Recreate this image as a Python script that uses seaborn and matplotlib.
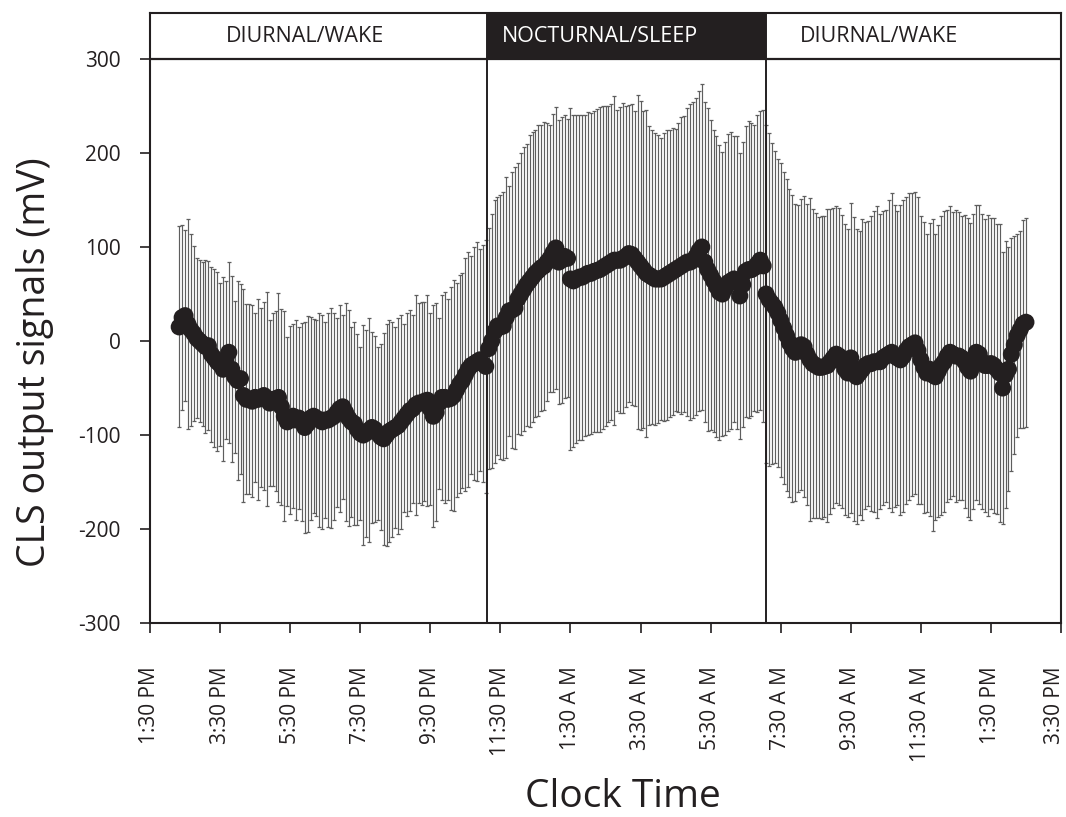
import numpy as np
import pandas as pd
import matplotlib
matplotlib.use("Agg")
import matplotlib.pyplot as plt
import matplotlib.transforms as mtransforms
import seaborn as sns

# ---- data (5-min samples starting 2:20 PM; one row per hour) ----
start_hour = 14 + 20 / 60.0
step_hours = 5 / 60.0

mean_rows = [
    [15, 25, 27, 18, 12, 8, 3, 0, -3, -6, -5, -14],
    [-18, -22, -25, -30, -20, -12, -30, -38, -42, -40, -58, -62],
    [-62, -64, -60, -62, -60, -58, -62, -66, -62, -64, -60, -70],
    [-80, -86, -84, -80, -84, -82, -86, -92, -88, -82, -80, -82],
    [-84, -86, -84, -84, -82, -80, -76, -72, -70, -76, -82, -86],
    [-88, -94, -98, -100, -98, -95, -92, -94, -98, -102, -104, -100],
    [-96, -94, -92, -90, -86, -82, -78, -74, -72, -68, -66, -66],
    [-64, -63, -72, -80, -76, -66, -60, -60, -62, -61, -58, -52],
    [-46, -42, -36, -30, -26, -24, -22, -20, -24, -27, -8, 0],
    [10, 16, 15, 16, 25, 32, 33, 35, 45, 50, 55, 60],
    [64, 68, 72, 75, 78, 80, 84, 88, 94, 99, 84, 86],
    [90, 88, 66, 64, 66, 68, 68, 70, 72, 72, 74, 75],
    [76, 78, 80, 82, 84, 86, 86, 86, 88, 90, 93, 92],
    [88, 84, 80, 76, 72, 70, 68, 66, 66, 66, 68, 70],
    [72, 74, 76, 78, 80, 82, 84, 84, 86, 90, 96, 100],
    [84, 76, 70, 64, 58, 52, 50, 56, 62, 64, 66, 62],
    [48, 60, 74, 76, 76, 78, 82, 86, 80, 50, 44, 40],
    [36, 30, 22, 14, 6, -2, -8, -12, -8, -4, -6, -14],
    [-20, -24, -26, -28, -28, -27, -26, -22, -18, -14, -16, -22],
    [-30, -34, -18, -30, -38, -34, -30, -26, -24, -24, -22, -22],
    [-22, -18, -16, -14, -12, -16, -18, -20, -16, -10, -6, -4],
    [-2, -10, -20, -28, -34, -30, -36, -38, -32, -26, -22, -16],
    [-12, -14, -16, -16, -18, -22, -28, -32, -22, -12, -14, -22],
    [-26, -26, -24, -26, -30, -34, -50, -36, -30, -14, -4, 6],
    [12, 18, 20],
]

err_rows = [
    [107, 98, 91, 112, 102, 93, 85, 86, 87, 92, 90, 93],
    [95, 95, 87, 98, 84, 96, 99, 81, 106, 101, 113, 101],
    [101, 102, 90, 107, 95, 100, 114, 88, 92, 96, 111, 104],
    [112, 90, 100, 98, 106, 97, 105, 112, 115, 108, 103, 104],
    [114, 114, 104, 114, 117, 110, 101, 110, 98, 116, 115, 101],
    [108, 102, 92, 117, 110, 119, 102, 99, 92, 99, 113, 118],
    [118, 114, 107, 115, 114, 100, 108, 107, 100, 117, 106, 108],
    [106, 112, 102, 118, 116, 91, 109, 112, 107, 119, 123, 114],
    [116, 114, 124, 125, 116, 124, 127, 118, 126, 135, 128, 135],
    [140, 137, 140, 143, 149, 133, 147, 150, 144, 150, 151, 150],
    [155, 154, 153, 155, 152, 153, 148, 142, 148, 150, 151, 152],
    [151, 148, 182, 177, 174, 173, 173, 171, 172, 171, 171, 172],
    [173, 172, 170, 168, 168, 175, 160, 163, 165, 160, 158, 160],
    [157, 178, 175, 169, 174, 159, 156, 155, 153, 150, 153, 154],
    [153, 153, 150, 154, 158, 157, 164, 168, 168, 169, 170, 173],
    [170, 172, 165, 161, 160, 157, 151, 156, 158, 158, 152, 156],
    [152, 152, 155, 158, 156, 152, 158, 159, 166, 180, 177, 171],
    [166, 164, 167, 166, 166, 164, 163, 158, 153, 155, 160, 160],
    [172, 164, 162, 160, 161, 160, 167, 162, 160, 158, 158, 156],
    [155, 153, 165, 162, 157, 151, 160, 153, 152, 157, 160, 166],
    [157, 156, 155, 164, 170, 161, 156, 165, 166, 163, 163, 161],
    [161, 163, 153, 155, 148, 156, 166, 152, 155, 159, 160, 155],
    [156, 151, 155, 153, 151, 156, 159, 158, 157, 157, 159, 157],
    [156, 160, 155, 157, 154, 159, 145, 142, 130, 124, 116, 108],
    [105, 111, 111],
]

tick_hours = [13.5, 15.5, 17.5, 19.5, 21.5, 23.5, 25.5, 27.5, 29.5, 31.5, 33.5, 35.5, 37.5, 39.5]
tick_labels = ["1:30 PM", "3:30 PM", "5:30 PM", "7:30 PM", "9:30 PM", "11:30 PM",
               "1:30 A M", "3:30 A M", "5:30 A M", "7:30 A M", "9:30 A M", "11:30 A M",
               "1:30 PM", "3:30 PM"]
y_ticks = [-300, -200, -100, 0, 100, 200, 300]

phase_bounds = [13.5, 23.13, 31.07, 39.5]
phase_names = ["DIURNAL/WAKE", "NOCTURNAL/SLEEP", "DIURNAL/WAKE"]
phase_label_x = [17.93, 26.35, 34.3]

# ---- build frame ----
means = [v for row in mean_rows for v in row]
errs = [v for row in err_rows for v in row]
hours = start_hour + step_hours * np.arange(len(means))
df = pd.DataFrame({"hour": hours, "signal": means, "err": errs})

sns.set_style("ticks")
plt.rcParams["font.family"] = ["Open Sans", "DejaVu Sans"]

fig = plt.figure(figsize=(10.66, 8.17), dpi=100)
ax = fig.add_axes([150 / 1066, 1 - 623 / 817, 911 / 1066, 610 / 817])

y_top = 349
ax.set_xlim(13.5, 39.5)
ax.set_ylim(-300, y_top)

# error bars
ax.errorbar(df["hour"], df["signal"], yerr=df["err"], fmt="none",
            ecolor="#5e5e5e", elinewidth=0.85, capsize=1.6, capthick=0.9, zorder=2)
# mean markers
sns.scatterplot(data=df, x="hour", y="signal", ax=ax, s=150, color="#231f20",
                edgecolor="none", linewidth=0, zorder=3, legend=False)

# header band
frac300 = (300 - (-300)) / (y_top - (-300))
for i, name in enumerate(phase_names):
    fc = "#231f20" if i == 1 else "white"
    tc = "white" if i == 1 else "#231f20"
    ax.axvspan(phase_bounds[i], phase_bounds[i + 1], ymin=frac300, ymax=1,
               facecolor=fc, edgecolor="none", zorder=1)
    ax.text(phase_label_x[i], 323.5, name, ha="center", va="center", color=tc,
            fontsize=15.5, zorder=5)
ax.axhline(300, color="#231f20", lw=1.6, zorder=4)
for b in phase_bounds[1:3]:
    ax.axvline(b, color="#231f20", lw=1.4, zorder=4)

for sp in ax.spines.values():
    sp.set_visible(True)
    sp.set_color("#231f20")
    sp.set_linewidth(1.5)

ax.set_yticks(y_ticks)
ax.set_yticklabels([str(v) for v in y_ticks], fontsize=15)
ax.set_xticks(tick_hours)
ax.set_xticklabels(tick_labels, rotation=90, fontsize=15, va="top")
ax.tick_params(axis="y", length=7, width=1.2, pad=14, colors="#231f20")
ax.tick_params(axis="x", length=7, width=1.2, pad=24, colors="#231f20")
ax.set_xlabel("")
ax.set_ylabel("")

# keep the last tick label inside the canvas
last = ax.get_xticklabels()[-1]
last.set_transform(last.get_transform() + mtransforms.ScaledTranslation(-6 / 100, 0, fig.dpi_scale_trans))

fig.text(623 / 1066, 1 - 797 / 817, "Clock Time", ha="center", va="center",
         fontsize=28, color="#231f20")
fig.text(35 / 1066, 1 - 362 / 817, "CLS output signals (mV)", ha="center", va="center",
         rotation=90, fontsize=27, color="#231f20")

fig.savefig("out.png", dpi=100)
